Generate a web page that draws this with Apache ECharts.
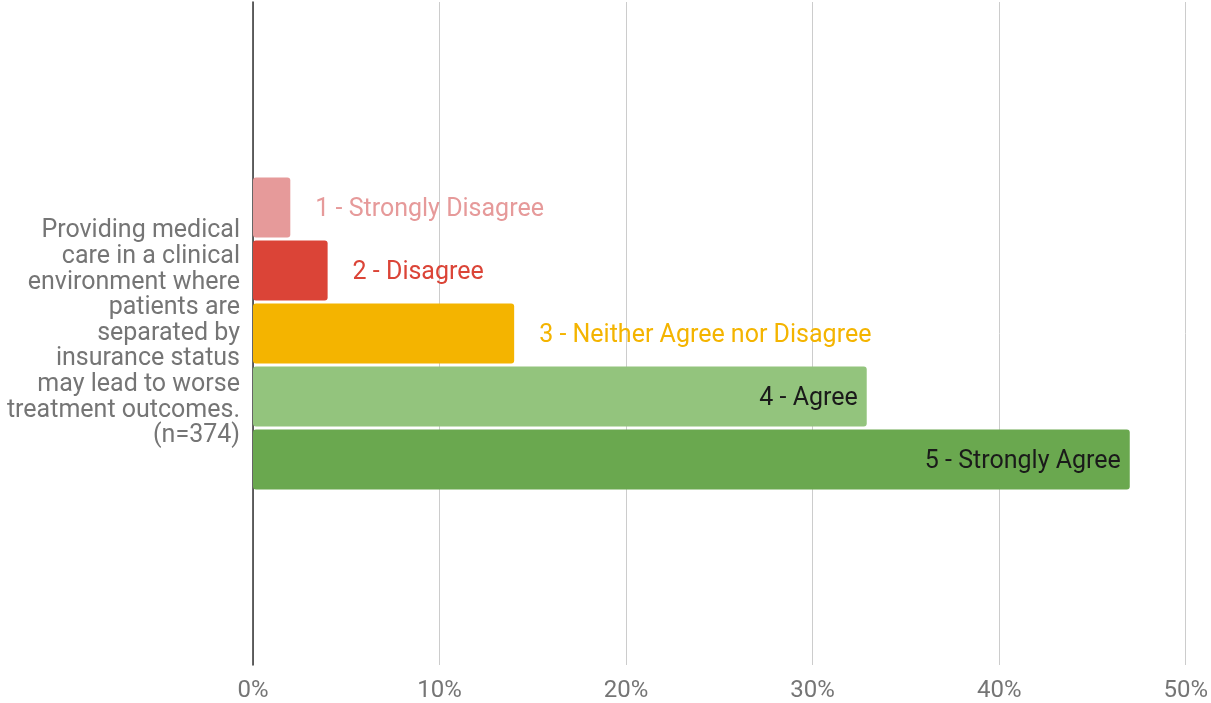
<!DOCTYPE html>
<html>
<head>
<meta charset="utf-8">
<script src="https://cdn.jsdelivr.net/npm/echarts@6/dist/echarts.min.js"></script>
<style>html,body{margin:0;padding:0;background:#fff}#c{width:1211px;height:703px}</style>
</head>
<body>
<div id="c"></div>
<script>
const categories = ['Providing medical\ncare in a clinical\nenvironment where\npatients are\nseparated by\ninsurance status\nmay lead to worse\ntreatment outcomes.\n(n=374)'];
const seriesNames = ['1 - Strongly Disagree', '2 - Disagree', '3 - Neither Agree nor Disagree', '4 - Agree', '5 - Strongly Agree'];
const seriesValues = [[2.0], [4.0], [14.0], [32.9], [47.0]];
const xTicks = [0, 10, 20, 30, 40, 50];

const colors = ['#e69a9a', '#db4437', '#f4b400', '#93c47d', '#6aa84f'];
const labelColors = ['#e69a9a', '#db4437', '#f4b400', '#1a1a1a', '#1a1a1a'];
const labelPos = ['right', 'right', 'right', 'insideRight', 'insideRight'];

const chart = echarts.init(document.getElementById('c'));
chart.setOption({
  animation: false,
  grid: {left: 253, right: 25, top: 2, bottom: 38, containLabel: false},
  xAxis: {
    type: 'value', min: xTicks[0], max: xTicks[xTicks.length - 1], interval: 10,
    axisLine: {show: false}, axisTick: {show: false},
    splitLine: {show: true, lineStyle: {color: '#cccccc', width: 1}},
    axisLabel: {formatter: '{value}%', color: '#757575', fontFamily: 'Roboto', fontSize: 24, margin: 14}
  },
  yAxis: {
    type: 'category', data: categories, inverse: true,
    axisLine: {show: true, lineStyle: {color: '#333333', width: 1.5}},
    axisTick: {show: false},
    axisLabel: {color: '#757575', fontFamily: 'Roboto', fontSize: 25, lineHeight: 25.6, margin: 13, align: 'right', padding: [5, 0, 0, 0]}
  },
  series: seriesNames.map((n, i) => ({
    name: n, type: 'bar', data: seriesValues[i], barWidth: 60, barGap: '5%',
    itemStyle: {color: colors[i], borderRadius: 3},
    label: {
      show: true, position: labelPos[i], distance: labelPos[i] === 'right' ? 25 : 9,
      offset: [0, 2],
      formatter: n, color: labelColors[i], fontFamily: 'Roboto', fontSize: 25
    },
    z: 3
  }))
});
</script>
</body>
</html>
